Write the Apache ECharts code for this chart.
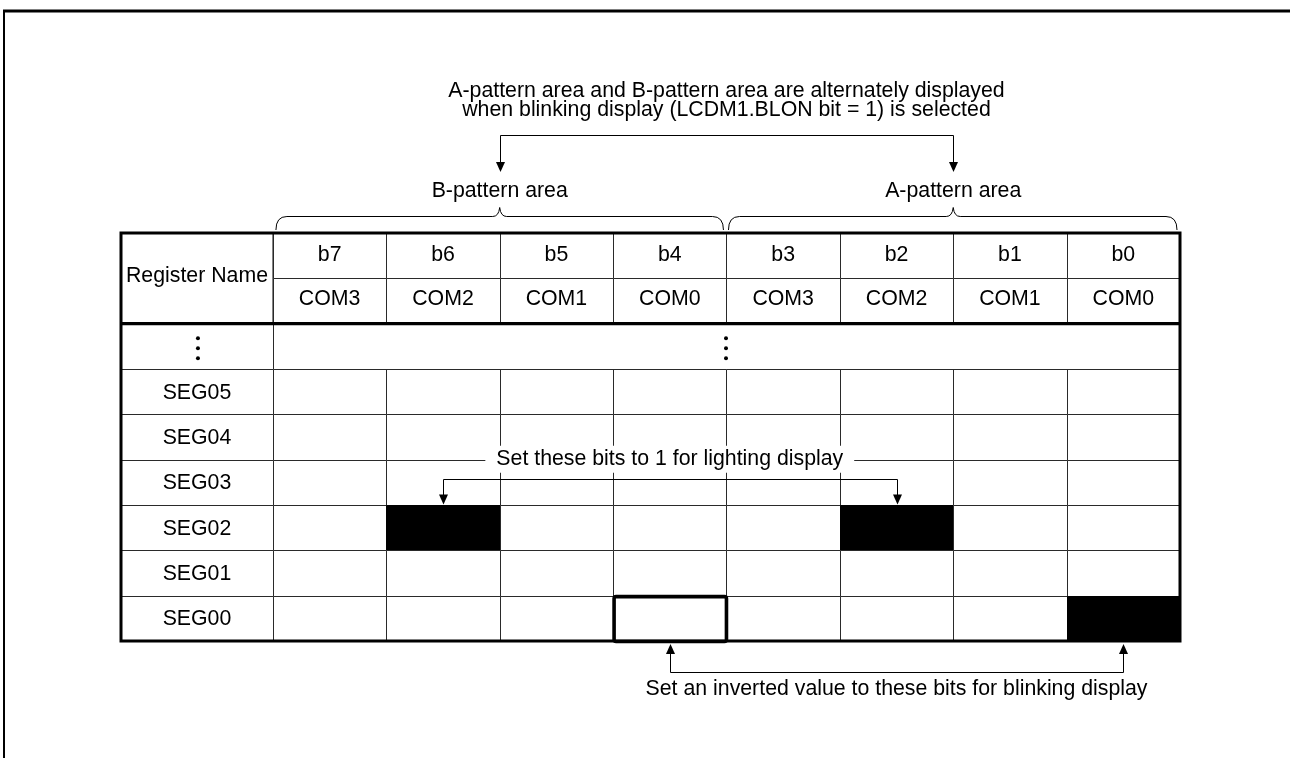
<!DOCTYPE html>
<html><head><meta charset="utf-8">
<script src="https://cdn.jsdelivr.net/npm/echarts@6/dist/echarts.min.js"></script>
<style>html,body{margin:0;padding:0;background:#fff}#c{width:1290px;height:758px}</style>
</head><body><div id="c"></div>
<script>
// ---- data ----
const bitLabels = ['b7', 'b6', 'b5', 'b4', 'b3', 'b2', 'b1', 'b0'];
const comLabels = ['COM3', 'COM2', 'COM1', 'COM0', 'COM3', 'COM2', 'COM1', 'COM0'];
const regHeader = 'Register Name';
const regNames = ['SEG05', 'SEG04', 'SEG03', 'SEG02', 'SEG01', 'SEG00'];
// bit values per register, ordered b7..b0 (1 = lit / black)
const segValues = [
  [0, 0, 0, 0, 0, 0, 0, 0],
  [0, 0, 0, 0, 0, 0, 0, 0],
  [0, 0, 0, 0, 0, 0, 0, 0],
  [0, 1, 0, 0, 0, 1, 0, 0],
  [0, 0, 0, 0, 0, 0, 0, 0],
  [0, 0, 0, 0, 0, 0, 0, 1]
];
const outlinedCells = [['SEG00', 'b4']];
const areaLabels = ['B-pattern area', 'A-pattern area'];
const areaBits = [['b7', 'b4'], ['b3', 'b0']];
const noteTopLines = ['A-pattern area and B-pattern area are alternately displayed',
                      'when blinking display (LCDM1.BLON bit = 1) is selected'];
const noteLighting = 'Set these bits to 1 for lighting display';
const lightingTargets = [['SEG02', 'b6'], ['SEG02', 'b2']];
const noteBlink = 'Set an inverted value to these bits for blinking display';
const blinkTargets = [['SEG00', 'b4'], ['SEG00', 'b0']];

// ---- layout helpers ----
const FONT = '21.3px "Liberation Sans", Arial, sans-serif';
const NAME_MIN = -1.34;
const colOf = b => bitLabels.indexOf(b);
const rowOf = s => 3 + regNames.indexOf(s);
const crisp = v => Math.round(v) + 0.5;

function txt(text, x, y, extra) {
  return { type: 'text', style: Object.assign({ text: text, x: x, y: y, font: FONT, fill: '#000',
    align: 'center', verticalAlign: 'middle' }, extra || {}) };
}
function line(x1, y1, x2, y2, lw) {
  return { type: 'line', shape: { x1: x1, y1: y1, x2: x2, y2: y2 },
    style: { stroke: '#000', lineWidth: lw || 1 } };
}
function arrowDown(x, tipY) {
  return { type: 'polygon', shape: { points: [[x - 4.5, tipY - 10], [x + 4.5, tipY - 10], [x, tipY]] },
    style: { fill: '#000' } };
}
function arrowUp(x, tipY) {
  return { type: 'polygon', shape: { points: [[x - 4.5, tipY + 10], [x + 4.5, tipY + 10], [x, tipY]] },
    style: { fill: '#000' } };
}
function dots(x, y) {
  return [-10, 0, 10].map(d => ({ type: 'circle', shape: { cx: x, cy: y + d, r: 2 }, style: { fill: '#000' } }));
}

const cellData = [];
regNames.forEach((s, r) => segValues[r].forEach((v, c) => cellData.push([c, 3 + r, v])));
const headerData = bitLabels.map((b, i) => [i, 0]);
const nameData = regNames.map((s, r) => [NAME_MIN, 3 + r]);

const chart = echarts.init(document.getElementById('c'));
chart.setOption({
  animation: false,
  grid: { left: 121, top: 233, width: 1059, height: 408 },
  xAxis: { type: 'value', min: NAME_MIN, max: 8, show: false },
  yAxis: { type: 'value', min: 0, max: 9, inverse: true, show: false },
  graphic: [
    { type: 'line', shape: { x1: 3, y1: 11, x2: 1290, y2: 11 }, style: { stroke: '#000', lineWidth: 3 } },
    { type: 'line', shape: { x1: 4, y1: 10, x2: 4, y2: 758 }, style: { stroke: '#000', lineWidth: 2 } }
  ],
  series: [
    { // bit cells
      type: 'custom', z: 2, clip: false, data: cellData,
      renderItem(params, api) {
        const c = api.value(0), r = api.value(1), v = api.value(2);
        const p0 = api.coord([c, r]), p1 = api.coord([c + 1, r + 1]);
        const x0 = crisp(p0[0]), y0 = crisp(p0[1]), x1 = crisp(p1[0]), y1 = crisp(p1[1]);
        return { type: 'rect', shape: { x: x0, y: y0, width: x1 - x0, height: y1 - y0 },
          style: { fill: v ? '#000' : '#fff', stroke: v ? '#000' : '#2a2a2a', lineWidth: 1 } };
      }
    },
    { // header bit / COM cells
      type: 'custom', z: 2, clip: false, data: headerData,
      renderItem(params, api) {
        const i = params.dataIndex;
        const c = api.value(0);
        const p0 = api.coord([c, 0]), pm = api.coord([c + 1, 1]), p1 = api.coord([c + 1, 2]);
        const x0 = crisp(p0[0]), x1 = crisp(p1[0]), y0 = crisp(p0[1]), ym = crisp(pm[1]), y1 = crisp(p1[1]);
        const cx = (p0[0] + p1[0]) / 2;
        return { type: 'group', children: [
          { type: 'rect', shape: { x: x0, y: y0, width: x1 - x0, height: ym - y0 }, style: { fill: '#fff', stroke: '#2a2a2a', lineWidth: 1 } },
          { type: 'rect', shape: { x: x0, y: ym, width: x1 - x0, height: y1 - ym }, style: { fill: '#fff', stroke: '#2a2a2a', lineWidth: 1 } },
          txt(bitLabels[i], cx, (p0[1] + pm[1]) / 2 - 1),
          txt(comLabels[i], cx, (pm[1] + p1[1]) / 2 - 2)
        ] };
      }
    },
    { // register name column
      type: 'custom', z: 2, clip: false, data: nameData,
      renderItem(params, api) {
        const i = params.dataIndex;
        const x = api.value(0), r = api.value(1);
        const p0 = api.coord([x, r]), p1 = api.coord([0, r + 1]);
        const x0 = crisp(p0[0]), y0 = crisp(p0[1]), x1 = crisp(p1[0]), y1 = crisp(p1[1]);
        return { type: 'group', children: [
          { type: 'rect', shape: { x: x0, y: y0, width: x1 - x0, height: y1 - y0 }, style: { fill: '#fff', stroke: '#2a2a2a', lineWidth: 1 } },
          txt(regNames[i], (p0[0] + p1[0]) / 2, (p0[1] + p1[1]) / 2 + 1)
        ] };
      }
    },
    { // table frame: Register Name header, dots row, thick borders, outlined cells
      type: 'custom', z: 4, clip: false, data: [[NAME_MIN, 0]],
      renderItem(params, api) {
        const tl = api.coord([NAME_MIN, 0]), br = api.coord([8, 9]);
        const nameR = api.coord([0, 2]);
        const dTop = api.coord([0, 2])[1], dBot = api.coord([0, 3])[1];
        const ch = [];
        ch.push({ type: 'rect', shape: { x: tl[0], y: tl[1], width: nameR[0] - tl[0], height: nameR[1] - tl[1] }, style: { fill: '#fff', stroke: '#2a2a2a', lineWidth: 1 } });
        ch.push(txt(regHeader, (tl[0] + nameR[0]) / 2, (tl[1] + nameR[1]) / 2 - 2));
        // dots row
        ch.push({ type: 'rect', shape: { x: tl[0], y: crisp(dTop), width: crisp(nameR[0]) - tl[0], height: crisp(dBot) - crisp(dTop) }, style: { fill: '#fff', stroke: '#2a2a2a', lineWidth: 1 } });
        ch.push({ type: 'rect', shape: { x: crisp(nameR[0]), y: crisp(dTop), width: br[0] - crisp(nameR[0]), height: crisp(dBot) - crisp(dTop) }, style: { fill: '#fff', stroke: '#2a2a2a', lineWidth: 1 } });
        const midY = (dTop + dBot) / 2 + 2;
        dots((tl[0] + nameR[0]) / 2 + 1, midY).forEach(d => ch.push(d));
        dots(Math.round(api.coord([4, 0])[0]), midY).forEach(d => ch.push(d));
        // thick header separator and outer border
        ch.push(line(tl[0], dTop, br[0], dTop, 3.2));
        ch.push({ type: 'rect', shape: { x: tl[0], y: tl[1], width: br[0] - tl[0], height: br[1] - tl[1] }, style: { fill: 'none', stroke: '#000', lineWidth: 3 } });
        // outlined cells
        outlinedCells.forEach(([s, b]) => {
          const a = api.coord([colOf(b), rowOf(s)]), e = api.coord([colOf(b) + 1, rowOf(s) + 1]);
          ch.push({ type: 'rect', shape: { x: a[0] + 1, y: a[1] + 1, width: e[0] - a[0] - 1, height: e[1] - a[1] - 0.5, r: 2 }, style: { fill: 'none', stroke: '#000', lineWidth: 3.6 } });
        });
        return { type: 'group', children: ch };
      }
    },
    { // annotations
      type: 'custom', z: 6, clip: false, data: [[0, 0]],
      renderItem(params, api) {
        const X = c => api.coord([c, 0])[0];
        const Y = r => api.coord([0, r])[1];
        const top = Y(0), bottom = Y(9);
        const ch = [];
        // top note
        const midX = X(4);
        ch.push(txt(noteTopLines[0], midX, top - 142));
        ch.push(txt(noteTopLines[1], midX, top - 123));
        const areaCenters = areaBits.map(([a, b]) => (X(colOf(a)) + X(colOf(b) + 1)) / 2);
        const yH = crisp(top - 98);
        ch.push(line(crisp(areaCenters[0]), yH, crisp(areaCenters[1]), yH));
        areaCenters.forEach((cx, k) => {
          const x = crisp(cx);
          ch.push(line(x, yH, x, top - 69));
          ch.push(arrowDown(x, top - 61));
          ch.push(txt(areaLabels[k], cx, top - 42));
          // curly brace
          const x0 = X(colOf(areaBits[k][0])) + (k === 0 ? 3 : 2);
          const x1 = X(colOf(areaBits[k][1]) + 1) - (k === 0 ? 3 : 3);
          const yb = top - 16, y = top - 16 - 12.5 + 12.5 - 0, yl = top - 16;
          const base = top - 16.5, end = top - 3, peak = top - 25.5;
          const d = 'M' + x0 + ',' + end + ' Q' + x0 + ',' + base + ' ' + (x0 + 11) + ',' + base +
            ' L' + (cx - 7) + ',' + base + ' Q' + (cx - 1) + ',' + base + ' ' + cx + ',' + peak +
            ' Q' + (cx + 1) + ',' + base + ' ' + (cx + 7) + ',' + base +
            ' L' + (x1 - 11) + ',' + base + ' Q' + x1 + ',' + base + ' ' + x1 + ',' + end;
          ch.push({ type: 'path', shape: { pathData: d }, style: { fill: 'none', stroke: '#000', lineWidth: 1 } });
        });
        // lighting note
        const lx = lightingTargets.map(([s, b]) => X(colOf(b) + 0.5));
        const lRow = rowOf(lightingTargets[0][0]);
        const lineY = crisp(Y(lRow) - 26);
        ch.push(txt(noteLighting, (lx[0] + lx[1]) / 2, Y(lRow - 1) - 0.5,
          { backgroundColor: '#fff', padding: [3, 11, 3, 11] }));
        ch.push(line(crisp(lx[0]), lineY, crisp(lx[1]), lineY));
        lx.forEach(x => { ch.push(line(crisp(x), lineY, crisp(x), Y(lRow) - 9)); ch.push(arrowDown(crisp(x), Y(lRow) - 0.5)); });
        // blink note
        const bx = blinkTargets.map(([s, b]) => X(colOf(b) + 0.5));
        const bY = crisp(bottom + 31);
        ch.push(line(crisp(bx[0]), bY, crisp(bx[1]), bY));
        bx.forEach(x => { ch.push(line(crisp(x), bY, crisp(x), bottom + 12)); ch.push(arrowUp(crisp(x), bottom + 3)); });
        ch.push(txt(noteBlink, (bx[0] + bx[1]) / 2, bottom + 48));
        return { type: 'group', children: ch };
      }
    }
  ]
});
</script></body></html>
